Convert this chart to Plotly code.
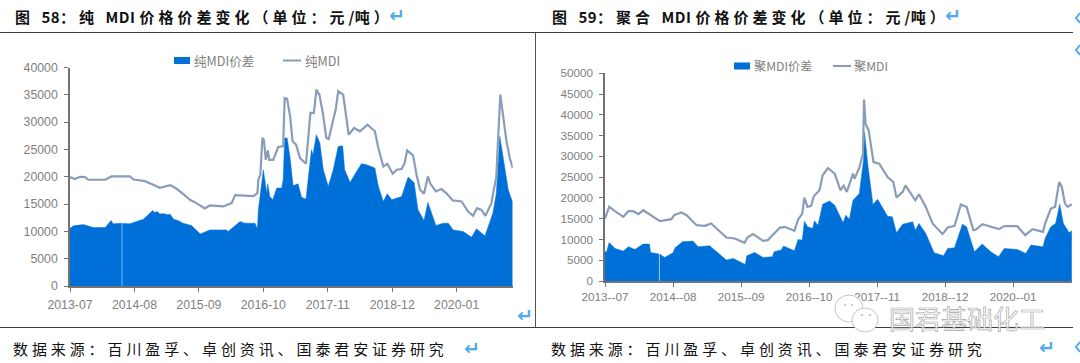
import plotly.graph_objects as go

# ---------- data ----------
tick_months = [0, 13, 26, 39, 52, 65, 78]
labels_a = ["2013-07", "2014-08", "2015-09", "2016-10", "2017-11", "2018-12", "2020-01"]
labels_b = ["2013--07", "2014--08", "2015--09", "2016--10", "2017--11", "2018--12", "2020--01"]

pure_line_m = [0, 1, 2, 3, 3.7, 7.1, 8.4, 12.1, 12.8, 15.1, 16.8, 18.1, 20.2, 21.5, 22.8, 24.2, 25.5, 27.2, 28.2, 30.9,
               32.6, 33.3, 37, 37.8, 38, 38.4, 38.8, 39.1, 39.5, 39.9, 40.2, 41, 42, 43, 43.3, 43.8, 44.4, 44.9, 45.6,
               46.4, 47.6, 48.5, 49.2, 49.7, 50.3, 51, 51.7, 52.2, 53.1, 53.6, 54.1, 55.1, 55.8, 56.2, 57.3, 58.5, 60,
               61.5, 62.2, 63.2, 64, 65.1, 65.9, 66.9, 67.5, 68, 69.2, 69.9, 70.6, 71.4, 72.2, 72.7, 73.8, 74.9, 75.9,
               77.2, 79, 80.3, 81.3, 82.1, 83, 83.8, 85, 86, 86.3, 86.8, 87.2, 88, 88.7, 89.3]
pure_line_v = [19940, 19570, 20000, 19950, 19450, 19450, 20060, 20060, 19500, 19200, 18530, 17980, 18470, 17800, 16880,
               15780, 15170, 14190, 14740, 14560, 15170, 16640, 16450, 17000, 19450, 20370, 27100, 26800, 23100, 24800,
               23100, 23100, 25440, 25560, 34400, 34250, 31070, 26480, 25870, 23420, 22380, 31680, 31680, 35960, 35040,
               31680, 27100, 26900, 30460, 32290, 35660, 35040, 30460, 27700, 28930, 28320, 29540, 28320, 25260, 21900,
               22380, 20550, 21280, 21400, 22500, 24830, 23910, 20370, 17610, 16880, 20060, 18710, 17310, 17740, 17000,
               15660, 15470, 13640, 12840, 14250, 13940, 12840, 15170, 20060, 26000, 35040, 32290, 26790, 23420, 21590]

pure_gap_m = [0, 0.7, 2.7, 4.7, 7.1, 8.3, 8.7, 10.4, 10.4, 10.6, 10.6, 12.1, 12.8, 14.8, 16.7, 17.1, 17.6, 18.1, 19.1,
              19.7, 20.2, 20.9, 21.8, 22.8, 24.5,
              26.3, 28.2, 31.6, 31.9, 34.3, 35.3, 37.3, 37.8, 38, 39, 39.3, 39.7, 39.9, 40.3, 40.9, 41.7, 42.7, 43, 43.3,
              43.8, 44.4, 45, 46, 46.7, 47.6, 48.7, 49, 49.7, 50.4, 51.1, 52.1, 53.1, 54.1, 55, 55.4, 56.5, 57.8, 58.8,
              59.8, 61.5, 62.2, 63.2, 64, 64.9, 66.9, 68.2, 69.4, 70.2, 71.4, 72.2, 73.8, 75.3, 76.3, 77.3, 79.3, 81,
              82, 83.7, 85.3, 86, 86.7, 87.5, 88.4, 89.3]
pure_gap_v = [10580, 11010, 11250, 10700, 10700, 11990, 11380, 11500, 0, 0, 11450, 11380, 11620, 12230, 13820, 13455,
              13640, 13210, 13210, 13030, 13150, 12230, 12000, 11500, 11070, 9540, 10270, 10270, 9970, 11800, 11500, 11500, 10460, 13940, 21280, 19450, 17000,
              18710, 16390, 15780, 17920, 17920, 19450, 27090, 27090, 23420, 18350, 18710, 16270, 15900, 24950, 24000,
              27700, 26180, 21280, 18230, 21280, 25560, 25680, 21280, 18960, 20980, 22380, 22200, 21590, 18230, 15470,
              16880, 15780, 16390, 19940, 18960, 13940, 11990, 15290, 11070, 11500, 11500, 10270, 9970, 8930, 10460,
              9170, 13330, 17000, 27400, 22500, 17610, 15290]

poly_line_m = [0, 0.8, 1.9, 3.5, 4.5, 5.4, 6.4, 7.3, 10.5, 12.7, 13.2, 14.6, 15.6, 17.5, 19.1, 20.3, 23.2, 24.8, 26.7,
               27.2, 28.3, 30.2, 31.1, 32.1, 33.4, 34.3, 36.2, 36.9, 37.7, 38.1, 38.7, 39.4, 39.9, 41, 41.6, 42.6, 43.9,
               45, 45.6, 46.2, 47.4, 47.7, 48.6, 49.3, 49.5, 49.8, 50.4, 51.3, 52.4, 54, 55.1, 55.7, 56.9, 57.4, 58.2,
               59.3, 60, 61.3, 62.6, 64.5, 65.5, 66.8, 68, 69.1, 70.4, 70.9, 72.1, 73.7, 75.3, 76.3, 78.8, 80.3, 81.7,
               83.7, 84.1, 85.2, 86, 86.8, 87.3, 87.9, 88.4, 89.2]
poly_line_v = [15040, 17840, 16800, 15440, 16800, 16800, 16080, 17040, 14400, 14880, 15840, 16480, 15840, 13440, 13280,
               13840, 10480, 10240, 9200, 10480, 11280, 9680, 9840, 11040, 12800, 13040, 12080, 14800, 16240, 20080,
               17840, 18080, 20400, 21840, 25440, 27200, 25840, 21840, 22960, 21440, 25840, 24640, 27280, 30640, 43680,
               37840, 36240, 28640, 28240, 25040, 23840, 20080, 21440, 23040, 21440, 19440, 20880, 17840, 13840, 11280,
               12880, 13280, 18400, 17840, 12240, 12400, 13680, 13040, 12480, 13200, 13200, 11040, 12480, 11840, 13840,
               17440, 17840, 23840, 22640, 18640, 17840, 18480]

poly_gap_m = [0, 0.3, 0.8, 1.9, 3.5, 4.5, 5.7, 7.3, 8.5, 8.7, 10.3, 10.3, 10.5, 10.5, 11.4, 13, 13.4, 14.8, 16.8, 17.8, 20,
              21.6, 23.2, 24.5, 26.8, 27.1, 28.6, 30.2, 32, 32.3, 33.7, 34.1, 36.2, 36.9, 37.7, 38.1, 38.7, 39.7, 40,
              40.7, 41.6, 42.9, 43.9, 45.5, 46, 46.7, 47.4, 48.6, 49.4, 49.6, 50.2, 51.2, 52.1, 54, 54.9, 55.7, 56.9,
              58.8, 59.3, 60, 61.3, 62.9, 64.7, 65.5, 66.8, 68.3, 69.1, 70.6, 72.1, 73.7, 75.2, 76.3, 78.8, 80.4, 81.4,
              83.7, 84.1, 85.2, 86.1, 86.9, 87.6, 88.7, 89.2]
poly_gap_v = [7040, 7040, 9280, 7840, 7200, 8240, 7600, 8880, 8880, 6880, 6500, 0, 0, 6450, 5680, 6800, 8000, 9440, 9600,
              8240, 8480, 6640, 5040, 5440, 4000, 6080, 6880, 5680, 5840, 7040, 7440, 8400, 7280, 10000, 9840, 14400,
              13040, 12640, 14480, 13440, 18480, 19280, 18240, 14000, 15840, 14880, 19440, 21040, 29040, 35840, 28240,
              18400, 19680, 15600, 15440, 11600, 13680, 14240, 12240, 13840, 11440, 6800, 6080, 7840, 8000, 13680,
              13040, 7040, 8880, 7040, 5840, 7840, 7600, 6640, 8640, 8240, 10240, 13040, 13840, 18480, 13840, 11600, 12080]

title_a_parts = ["图 ", "58", "\uff1a纯 ", "MDI ", "价格价差变化\uff08单位\uff1a元", "/", "吨\uff09"]
title_b_parts = ["图 ", "59", "\uff1a聚合 ", "MDI ", "价格价差变化\uff08单位\uff1a元", "/", "吨\uff09"]
source = "数据来源\uff1a百川盈孚、卓创资讯、国泰君安证券研究"
legend_a = ["纯MDI价差", "纯MDI"]
legend_b = ["聚MDI价差", "聚MDI"]
watermark = "国君基础化工"

# ---------- style ----------
W, H = 1080, 363
BLUE, SLATE, GRAY = "#0070D9", "#8A9DB8", "#808080"
ARROW = "#4FA8F0"
CJK = "Noto Sans CJK SC"
TICK = "Liberation Sans"

def px(x): return x / W
def py(y): return 1 - y / H

fig = go.Figure()
fig.add_trace(go.Scatter(x=pure_gap_m, y=pure_gap_v, name=legend_a[0], mode="lines", fill="tozeroy",
                         fillcolor=BLUE, line=dict(color=BLUE, width=0.5), xaxis="x", yaxis="y", showlegend=False))
fig.add_trace(go.Scatter(x=pure_line_m, y=pure_line_v, name=legend_a[1], mode="lines",
                         line=dict(color=SLATE, width=2.2), xaxis="x", yaxis="y", showlegend=False))
fig.add_trace(go.Scatter(x=poly_gap_m, y=poly_gap_v, name=legend_b[0], mode="lines", fill="tozeroy",
                         fillcolor=BLUE, line=dict(color=BLUE, width=0.5), xaxis="x2", yaxis="y2", showlegend=False))
fig.add_trace(go.Scatter(x=poly_line_m, y=poly_line_v, name=legend_b[1], mode="lines",
                         line=dict(color=SLATE, width=2.2), xaxis="x2", yaxis="y2", showlegend=False))

axis_common = dict(showgrid=False, zeroline=False, showline=True, linecolor="#737373", linewidth=1.5,
                   ticks="outside", tickcolor="#737373", ticklen=4, tickwidth=1, automargin=False)

shapes, anns = [], []
def line(x0, y0, x1, y1, color="#3c3c3c", w=1.2):
    shapes.append(dict(type="line", xref="paper", yref="paper", x0=px(x0), y0=py(y0), x1=px(x1), y1=py(y1),
                       line=dict(color=color, width=w)))
def text(x, y, s, size, color="#111", family=CJK, anchor="left"):
    anns.append(dict(xref="paper", yref="paper", x=px(x), y=py(y), text=s, showarrow=False, xanchor=anchor,
                     align=anchor, yanchor="middle", font=dict(size=size, color=color, family=family)))

# frame
line(0, 32.5, 1073, 32.5)
line(0, 327.5, 1073, 327.5)
line(535.5, 32.5, 535.5, 327.5, "#555", 1)

# titles and footers: bold segments get their own spacing in the page script below
def bold(parts): return "".join("<b>%s</b>" % p for p in parts)
text(13, 16, bold(title_a_parts), 15)
text(550, 16, bold(title_b_parts), 15)
text(11, 348, source, 15)
text(549, 348, source, 15)

# return marks
for x, y in [(397, 15), (953, 15), (525, 315), (472, 348), (1047, 347)]:
    text(x, y, "<b>↵</b>", 19, ARROW, "DejaVu Sans", "center")
# clipped marks at the picture's right edge
for y in (18, 50, 347):
    shapes.append(dict(type="path", xref="paper", yref="paper",
                       path="M %f %f L %f %f L %f %f" % (px(1080), py(y - 5), px(1076), py(y), px(1080), py(y + 5)),
                       line=dict(color=ARROW, width=2)))

# manual legends
for (sx, tx, lx, ltx, y, names, size) in [(174, 192, 283, 303, 60.5, legend_a, 12.6),
                                          (734, 752, 833, 852, 66, legend_b, 12.2)]:
    shapes.append(dict(type="rect", xref="paper", yref="paper", x0=px(sx), x1=px(sx + 16), y0=py(y - 3.5), y1=py(y + 3.5),
                       fillcolor=BLUE, line=dict(width=0)))
    line(lx, y, lx + 18, y, SLATE, 2)
    text(tx, y, names[0], size, GRAY)
    text(ltx, y, names[1], size, GRAY)

# watermark: chat bubbles and name
for (x0, y0, x1, y1) in [(835, 295, 863, 322), (852, 308, 878, 332)]:
    shapes.append(dict(type="circle", xref="paper", yref="paper", x0=px(x0), x1=px(x1), y0=py(y0), y1=py(y1),
                       fillcolor="white", line=dict(color="#c4c4c4", width=1)))
for (cx, cy) in [(845, 305), (852, 305), (862, 315), (870, 315)]:
    shapes.append(dict(type="circle", xref="paper", yref="paper", x0=px(cx - 1), x1=px(cx + 1), y0=py(cy - 1), y1=py(cy + 1),
                       fillcolor="#bbbbbb", line=dict(width=0)))
text(887, 317, watermark, 26, "rgba(255,255,255,0.7)")

fig.update_layout(
    width=W, height=H, margin=dict(l=0, r=0, t=0, b=0), autosize=False,
    paper_bgcolor="white", plot_bgcolor="white", showlegend=False,
    font=dict(family=TICK, color=GRAY),
    xaxis=dict(domain=[px(70), px(512.7)], range=[0, 89.3], tickvals=tick_months, ticktext=labels_a,
               tickfont=dict(size=12.3, color=GRAY, family=TICK), anchor="y", ticklabelstandoff=2, **axis_common),
    yaxis=dict(domain=[py(286), py(67.5)], range=[0, 40000], dtick=5000, tickformat="d", ticklabelstandoff=4,
               tickfont=dict(size=12.3, color=GRAY, family=TICK), anchor="x", **axis_common),
    xaxis2=dict(domain=[px(605), px(1072.3)], range=[0, 89.3], tickvals=tick_months, ticktext=labels_b,
                tickfont=dict(size=11.7, color=GRAY, family=TICK), anchor="y2", ticklabelstandoff=0, **axis_common),
    yaxis2=dict(domain=[py(281), py(73.3)], range=[0, 50000], dtick=5000, tickformat="d", ticklabelstandoff=4,
                tickfont=dict(size=11.7, color=GRAY, family=TICK), anchor="x2", **axis_common),
    shapes=shapes, annotations=anns,
)

post = r"""
document.body.style.margin='0';document.body.style.overflow='hidden';
document.querySelectorAll('.annotation-text').forEach(function(t){
  var s=t.textContent;
  if(s.indexOf('图 5')===0){
    t.querySelectorAll('tspan').forEach(function(p){
      p.style.letterSpacing = /[A-Za-z0-9\/]/.test(p.textContent) ? '0.5px' : '4px';
    });
  }
  else if(s.indexOf('数据来源')===0){t.style.letterSpacing='3.9px';}
  else if(s.indexOf('国君')===0){t.style.stroke='#a8a8a8';t.style.strokeWidth='0.7px';}
});
"""
fig.write_html("out.html", post_script=post, config={"displayModeBar": False})
